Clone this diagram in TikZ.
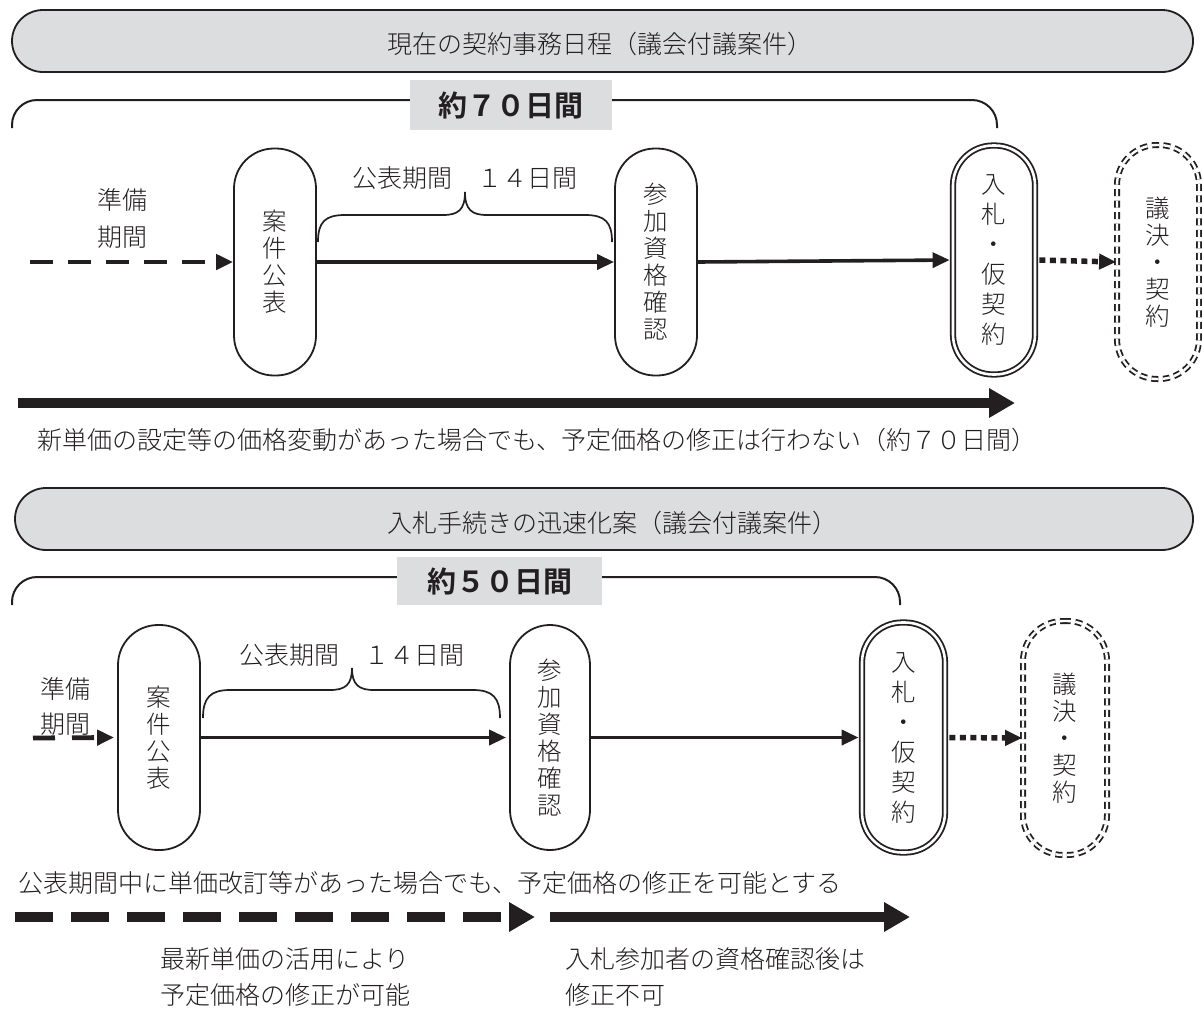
\documentclass[tikz,border=0pt]{standalone}
\usepackage{fontspec}
\setmainfont{Noto Sans CJK JP}[UprightFont=* Light, BoldFont=* Bold]
\usetikzlibrary{arrows.meta}
\definecolor{hdr}{HTML}{DCDDDF}
\definecolor{ink}{HTML}{231F20}
\begin{document}
\begin{tikzpicture}[x=1pt,y=1pt,
  jtext/.style={font=\fontsize{25}{36}\selectfont, text=ink, inner sep=0pt},
  stage/.style={draw=ink, line width=1.8pt, rounded corners=40pt, minimum width=82pt, minimum height=227pt, align=center, font=\fontsize{24.5}{27}\selectfont, text=ink, inner sep=0pt},
  dstage/.style={stage, double, double distance=2.6pt, line width=1.8pt},
  vstage/.style={stage, double, double distance=2.4pt, line width=1.8pt, dash pattern=on 7pt off 4.5pt},
  header/.style={draw=ink, fill=hdr, line width=1.8pt, rounded corners=31pt, minimum height=62pt, inner sep=0pt},
  daybox/.style={fill=hdr, font=\bfseries\fontsize{29}{29}\selectfont, text=ink, minimum width=202pt, minimum height=50pt, inner sep=0pt},
  flow/.style={draw=ink, line width=3.6pt, -{Triangle[length=17pt,width=15pt]}},
  prep/.style={flow, line width=4.8pt, dash pattern=on 23pt off 15pt},
  toproc/.style={flow, line width=5.5pt, dash pattern=on 6pt off 4.5pt},
  bigflow/.style={draw=ink, line width=10pt, -{Triangle[length=26pt,width=28pt]}},
  bigdash/.style={bigflow, dash pattern=on 38pt off 18pt},
  bracket/.style={draw=ink, line width=2pt, rounded corners=25pt},
  bracepath/.style={draw=ink, line width=1.7pt}
]
\useasboundingbox (0,0) rectangle (1202,-1010);

% ===== upper section =====
\node[header, minimum width=1181pt] (h1) at (602.5,-41) {};
\node[jtext] (h1t) at (600,-44) {現在の契約事務日程（議会付議案件）};

\draw[bracket] (12,-128) -- (12,-100) -- (997,-100) -- (997,-128);
\node[daybox] (d70) at (511,-105) {約７０日間};

\node[stage] (a1) at (275,-262) {案\\件\\公\\表};
\node[stage] (b1) at (656,-262) {参\\加\\資\\格\\確\\認};
\node[dstage, minimum height=229pt, font=\fontsize{24.5}{30}\selectfont] (c1) at (994,-260) {入\\札\\・\\仮\\契\\約};
\node[vstage, minimum width=82pt, minimum height=234pt] (e1) at (1158,-262) {議\\決\\・\\契\\約};

\node[jtext, align=center, font=\fontsize{25}{37}\selectfont] (p1) at (122,-219) {準備\\期間};
\coordinate (s1) at (30,-262);
\draw[prep] (s1) -- (a1.west);
\draw[flow] (a1.east) -- (b1.west);
\draw[flow, shorten >=2.5pt] (b1.east) -- (c1.west);
\draw[toproc, shorten <=3.5pt] (c1.east) -- (e1.west);

\draw[bracepath] (318,-242) .. controls (318,-222) and (325,-215) .. (345,-215) -- (443,-215)
  .. controls (458,-215) and (465,-210) .. (465,-192)
  .. controls (465,-210) and (472,-215) .. (487,-215) -- (585,-215)
  .. controls (605,-215) and (612,-222) .. (612,-242);
\node[jtext] (k1) at (465,-178) {公表期間　１４日間};

\coordinate (L1s) at (18,-403);
\coordinate (L1e) at (1015,-403);
\draw[bigflow] (L1s) -- (L1e);
\node[jtext] (n1) at (537,-440) {新単価の設定等の価格変動があった場合でも、予定価格の修正は行わない（約７０日間）};

% ===== lower section =====
\node[header, minimum width=1178pt] (h2) at (604,-519) {};
\node[jtext] (h2t) at (612,-523) {入札手続きの迅速化案（議会付議案件）};

\draw[bracket] (12,-605) -- (12,-577) -- (900,-577) -- (900,-605);
\node[daybox, minimum width=205pt, minimum height=48pt] (d50) at (499.5,-581) {約５０日間};

\node[stage, minimum height=225pt] (a2) at (159,-737.5) {案\\件\\公\\表};
\node[stage, minimum width=80pt, minimum height=225pt] (b2) at (550,-737.5) {参\\加\\資\\格\\確\\認};
\node[dstage, minimum width=83pt, minimum height=230pt, font=\fontsize{24.5}{30}\selectfont] (c2) at (903.5,-737.5) {入\\札\\・\\仮\\契\\約};
\node[vstage, minimum width=84pt, minimum height=234pt] (e2) at (1065,-738) {議\\決\\・\\契\\約};

\coordinate (s2) at (33,-738);
\draw[prep, dash pattern=on 22pt off 17pt] (s2) -- ([xshift=-3pt]a2.west);
\node[jtext, align=center, font=\fontsize{25}{35}\selectfont] (p2) at (65,-706) {準備\\期間};
\draw[flow, shorten >=3pt] (a2.east) -- (b2.west);
\draw[flow, shorten >=2.5pt] (b2.east) -- (c2.west);
\draw[toproc, shorten <=3.5pt] (c2.east) -- (e2.west);

\draw[bracepath] (203,-718) .. controls (203,-698) and (210,-690) .. (230,-690) -- (330,-690)
  .. controls (345,-690) and (352,-685) .. (352,-668)
  .. controls (352,-685) and (359,-690) .. (374,-690) -- (473,-690)
  .. controls (493,-690) and (500,-698) .. (500,-718);
\node[jtext] (k2) at (352,-655) {公表期間　１４日間};

\node[jtext, anchor=west] (n2) at (18,-883) {公表期間中に単価改訂等があった場合でも、予定価格の修正を可能とする};

\coordinate (L2s) at (15,-917);
\coordinate (L2m) at (535,-917);
\coordinate (L3s) at (550,-917);
\coordinate (L3e) at (910,-917);
\draw[bigdash] (L2s) -- (L2m);
\draw[bigflow] (L3s) -- (L3e);

\node[jtext, anchor=north west, align=left] (m1) at (160,-947) {最新単価の活用により\\予定価格の修正が可能};
\node[jtext, anchor=north west, align=left] (m2) at (565,-947) {入札参加者の資格確認後は\\修正不可};
\end{tikzpicture}
\end{document}
